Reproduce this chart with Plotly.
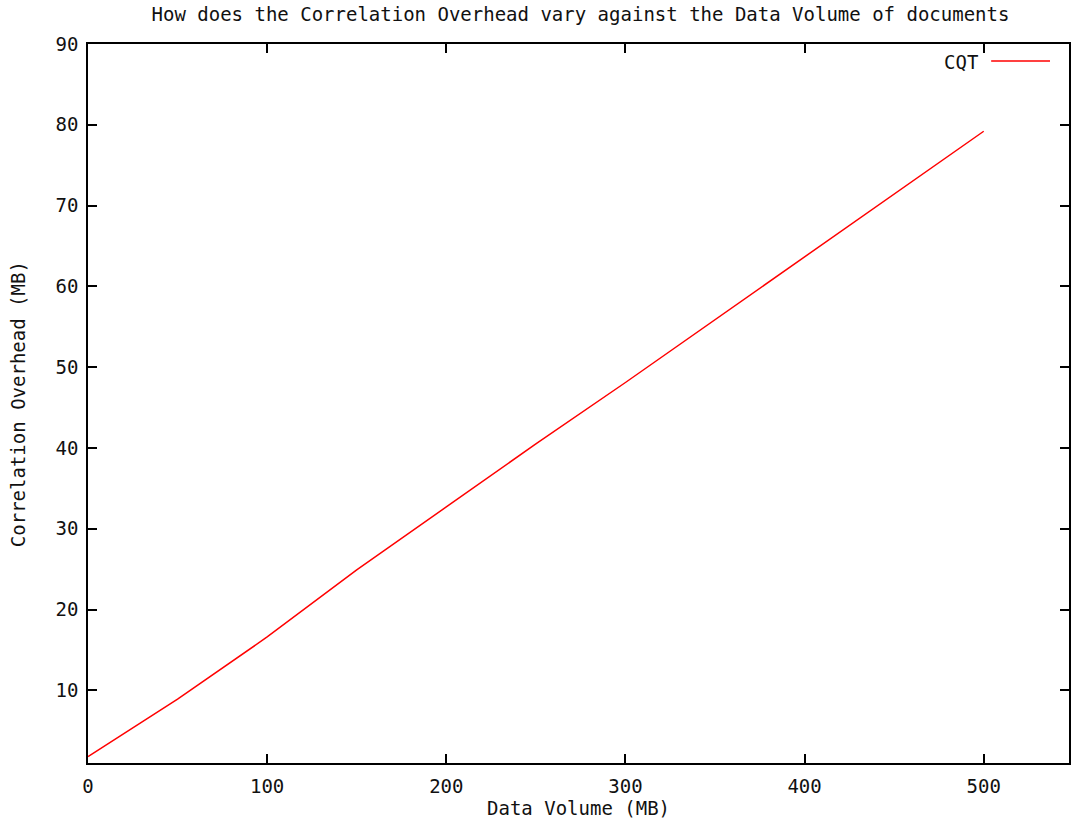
import plotly.graph_objects as go

# Data
data_volume_mb = [0, 50, 100, 150, 200, 250, 300, 350, 400, 450, 500]
overhead_mb = [1.8, 8.9, 16.6, 24.9, 32.7, 40.5, 48.1, 55.9, 63.6, 71.4, 79.2]
x_ticks = [0, 100, 200, 300, 400, 500]
y_ticks = [10, 20, 30, 40, 50, 60, 70, 80, 90]
series_name = "CQT"

FONT = "DejaVu Sans Mono"
FS = 19
TXT = "#111111"

fig = go.Figure()
fig.add_trace(go.Scatter(
    x=data_volume_mb, y=overhead_mb, mode="lines", name=series_name,
    line=dict(color="#ff0000", width=1.5), showlegend=False,
))

axis_common = dict(
    showgrid=False, zeroline=False, showline=True, linecolor="#000000",
    linewidth=1.5, mirror="ticks", ticks="inside", ticklen=9,
    tickcolor="#000000", tickwidth=1.5,
    tickfont=dict(family=FONT, size=FS, color=TXT),
)

fig.update_xaxes(range=[0, 547.6], tickvals=x_ticks, ticklabelstandoff=5, **axis_common)
fig.update_yaxes(range=[1, 90], tickvals=y_ticks, ticklabelstandoff=4, **axis_common)

fig.update_layout(
    width=1071, height=822,
    margin=dict(l=88, r=0, t=44, b=59),
    plot_bgcolor="white", paper_bgcolor="white",
    title=dict(
        text="How does the Correlation Overhead vary against the Data Volume of documents",
        font=dict(family=FONT, size=FS, color=TXT),
        x=0.542, xanchor="center", y=0.982, yanchor="middle",
    ),
    showlegend=False,
    annotations=[
        dict(text="Data Volume (MB)", xref="paper", yref="paper",
             x=(580 - 88) / 983, y=-(808 - 763) / 719, xanchor="center", yanchor="middle",
             showarrow=False, font=dict(family=FONT, size=FS, color=TXT)),
        dict(text="Correlation Overhead (MB)", xref="paper", yref="paper",
             x=-(88 - 18) / 983, y=(763 - 404) / 719, xanchor="center", yanchor="middle",
             textangle=-90, showarrow=False, font=dict(family=FONT, size=FS, color=TXT)),
        dict(text=series_name, xref="paper", yref="paper",
             x=(982 - 88) / 983, y=(763 - 62) / 719, xanchor="right", yanchor="middle",
             showarrow=False, font=dict(family=FONT, size=FS, color=TXT)),
    ],
    shapes=[
        dict(type="line", xref="paper", yref="paper",
             x0=(993 - 88) / 983, x1=(1052 - 88) / 983,
             y0=(763 - 61) / 719, y1=(763 - 61) / 719,
             line=dict(color="#ff0000", width=1.5)),
    ],
)

fig.write_html("out.html")
